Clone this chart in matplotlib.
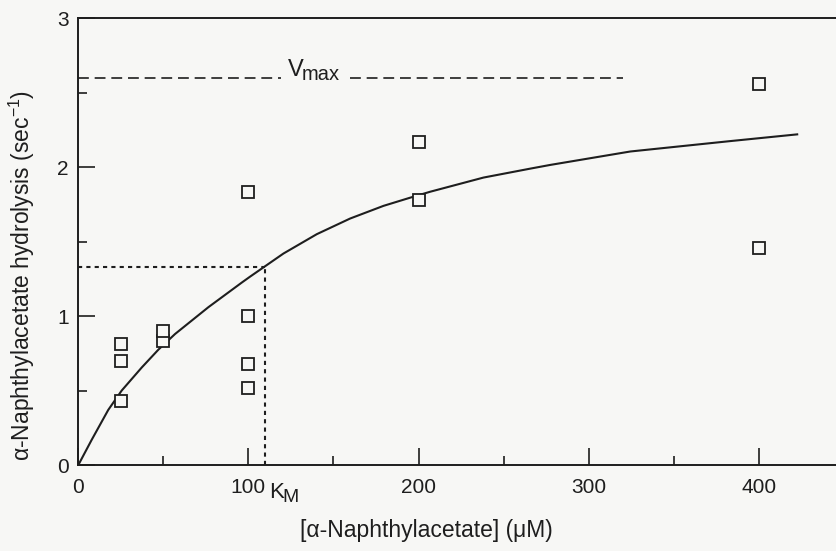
import matplotlib
matplotlib.use("Agg")
import matplotlib.pyplot as plt

plt.rcParams['font.family'] = ['Liberation Sans', 'DejaVu Sans']
plt.rcParams['mathtext.fontset'] = 'custom'
plt.rcParams['mathtext.rm'] = 'Liberation Sans'
plt.rcParams['mathtext.it'] = 'Liberation Sans:italic'

# measured rates (sec^-1) at each substrate concentration (uM)
conc = [25, 25, 25, 50, 50, 100, 100, 100, 100, 200, 200, 400, 400]
rate = [0.43, 0.70, 0.81, 0.83, 0.90, 0.52, 0.68, 1.00, 1.83, 1.78, 2.17, 2.56, 1.46]

# fitted curve
curve_x = [0, 7.9, 17.6, 25.5, 37.3, 47.1, 56.9, 76.5, 96.1, 101, 120.6,
           140.2, 159.8, 179.4, 195.1, 206.9, 238.2, 265.7, 277.5, 324.5, 383.4, 422.6]
curve_y = [0, 0.17, 0.37, 0.50, 0.655, 0.775, 0.88, 1.06, 1.225, 1.265, 1.42,
           1.55, 1.655, 1.74, 1.795, 1.835, 1.93, 1.99, 2.015, 2.105, 2.175, 2.22]

vmax = 2.6
km = 110
half_vmax = 1.33

bg = '#f7f7f5'
ink = '#1e1e1e'

fig = plt.figure(figsize=(8.37, 5.51), dpi=100, facecolor=bg)
ax = fig.add_axes([78.3 / 837, 0.156, 1 - 78.3 / 837, 0.811], facecolor=bg)

ax.plot(curve_x, curve_y, color=ink, lw=1.5, zorder=2, solid_joinstyle='round')
ax.plot(conc, rate, ls='none', marker='s', ms=8, mfc=bg, mec=ink, mew=1.3, zorder=3)

# Vmax and Km guides
dash = (0, (6.5, 3.5))
ax.hlines(vmax, 0, 119, colors=ink, linestyles=dash, lw=1.2)
ax.hlines(vmax, 160, 320, colors=ink, linestyles=dash, lw=1.2)
ax.annotate('V', xy=(123, vmax), xytext=(0, 1.5), textcoords='offset points',
            ha='left', va='baseline', fontsize=17, color=ink)
ax.annotate('max', xy=(123, vmax), xytext=(10.5, -1.5), textcoords='offset points',
            ha='left', va='baseline', fontsize=14.5, color=ink)
ax.vlines(km, 0, half_vmax, colors=ink, linestyles=(0, (2, 2)), lw=1.5)
ax.hlines(half_vmax, 0, km, colors=ink, linestyles=(0, (2, 2)), lw=1.5)
ax.annotate('K', xy=(km, 0), xycoords=('data', 'axes fraction'),
            xytext=(3, -12), textcoords='offset points', ha='left', va='top',
            fontsize=16, color=ink)
ax.annotate('M', xy=(km, 0), xycoords=('data', 'axes fraction'),
            xytext=(12.5, -17), textcoords='offset points', ha='left', va='top',
            fontsize=14, color=ink)

ax.set_xlim(0, 446)
ax.set_ylim(0, 3)
ax.set_xticks([0, 100, 200, 300, 400])
ax.set_xticks([50, 150, 250, 350], minor=True)
ax.set_yticks([0, 1, 2, 3])
ax.set_yticks([0.5, 1.5, 2.5], minor=True)
ax.tick_params(which='both', direction='in', colors=ink, labelsize=15, width=1.2)
ax.tick_params(which='major', length=12)
ax.tick_params(which='minor', length=6.5)
ax.tick_params(axis='x', pad=9)
ax.tick_params(axis='y', pad=7)

for side in ['left', 'bottom', 'top']:
    ax.spines[side].set_color(ink)
    ax.spines[side].set_linewidth(1.4)
ax.spines['right'].set_visible(False)

ax.set_xlabel('[\u03b1-Naphthylacetate] (\u03bcM)', fontsize=16.5, color=ink)
ax.set_ylabel('\u03b1-Naphthylacetate hydrolysis (sec$^{-1}$)', fontsize=16.5, color=ink)
ax.xaxis.set_label_coords((426 - 78.3) / (837 - 78.3), (465 - 530) / 447)
ax.yaxis.set_label_coords((22 - 78.3) / (837 - 78.3), (465 - 275) / 447)
ax.xaxis.label.set_va('center')
ax.yaxis.label.set_va('center')

fig.savefig('out.png', dpi=100, facecolor=bg)
